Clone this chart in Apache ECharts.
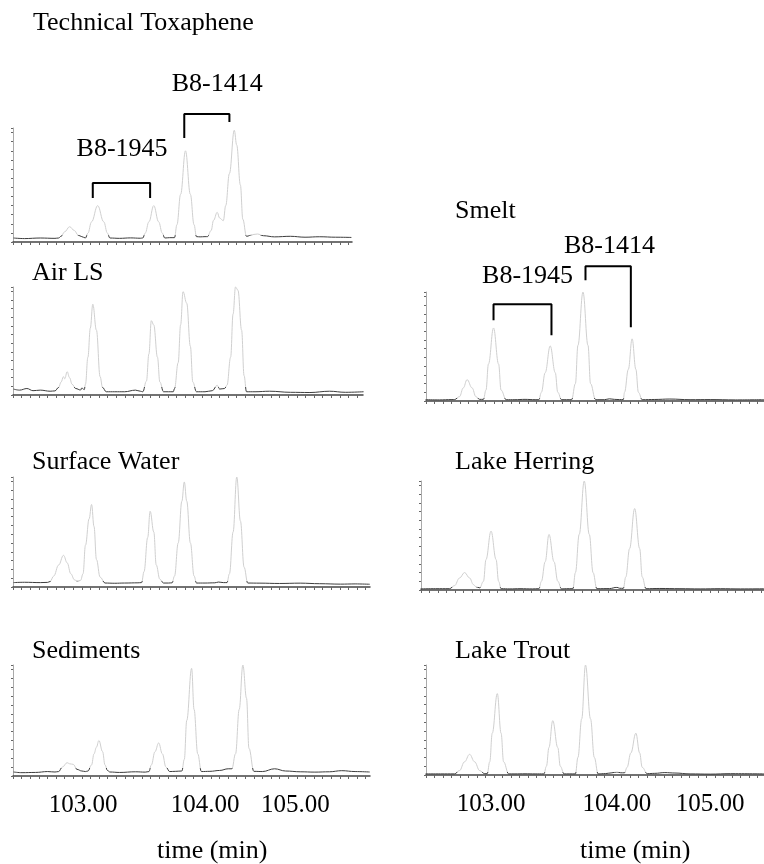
<!DOCTYPE html>
<html><head><meta charset="utf-8">
<script src="https://cdn.jsdelivr.net/npm/echarts@6/dist/echarts.min.js"></script>
<style>html,body{margin:0;padding:0;background:#fff}#c{width:764px;height:864px}</style>
</head><body><div id="c"></div>
<script>
// ---------- DATA (time in min, relative signal in % of panel full scale) ----------
const panelNames = ['Technical Toxaphene','Air LS','Surface Water','Sediments','Smelt','Lake Herring','Lake Trout'];
const tickLabels = ['103.00','104.00','105.00'];
const tickLabelTimes = [103.00, 104.00, 104.74];
const axisTitle = 'time (min)';

const toxapheneTrace = [
[102.43,3.5],[102.52,3.0],[102.65,3.5],[102.77,3.2],[102.80,3.5],[102.82,5],[102.85,9],[102.89,13.4],[102.93,10],[102.96,6],[102.99,4.7],
[103.02,3.5],[103.04,7.8],[103.07,17.7],[103.12,31.9],[103.17,17.7],[103.20,7.8],[103.22,3.5],
[103.30,3.2],[103.39,3.6],[103.47,3.3],
[103.49,3.5],[103.51,7.8],[103.54,17.7],[103.58,31.9],[103.62,17.7],[103.65,7.8],[103.67,3.5],[103.71,3.8],
[103.75,3.8],[103.77,15.2],[103.80,41.8],[103.84,80],[103.88,41.8],[103.91,15.2],[103.93,4.7],
[103.96,4.5],[104.00,4.7],[104.02,4.7],[104.05,10],[104.07,19],[104.10,26],[104.12,21],[104.15,18.7],
[104.17,32],[104.20,60],[104.24,98],[104.26,85],[104.29,50],[104.31,20],[104.34,5],
[104.39,6.5],[104.43,7],[104.48,5.5],[104.57,4.5],[104.70,5],[104.82,4.2],[104.94,4.6],[105.07,4.2],[105.20,4.0]
];
const airLSTrace = [
[102.43,5.5],[102.48,4.5],[102.54,6],[102.59,4],[102.65,4.5],[102.73,3.5],[102.77,3.8],
[102.80,7],[102.82,12],[102.84,17],[102.85,15],[102.87,21.6],[102.89,16],[102.91,10],[102.94,6],[102.98,4.6],[102.99,6.5],
[103.01,5],[103.02,10],[103.04,35],[103.06,62],[103.08,84],[103.11,60],[103.14,17],[103.16,7],[103.19,3],
[103.26,3],[103.34,3],[103.43,4.5],[103.47,3.5],
[103.49,3],[103.52,13],[103.54,38],[103.56,68.8],[103.58,64.8],[103.61,35],[103.63,12],[103.66,3],[103.70,3],[103.74,3],
[103.75,6],[103.78,30],[103.80,65],[103.82,95.7],[103.85,85],[103.88,45],[103.90,12],[103.93,3],
[104.00,3],[104.06,4],[104.10,9],[104.12,5.5],[104.16,6],
[104.18,9],[104.21,35],[104.23,75],[104.25,100],[104.27,97],[104.30,60],[104.32,18],[104.34,3],
[104.41,3],[104.53,3.5],[104.70,2.5],[104.86,2.3],[105.02,3.5],[105.15,2.5],[105.30,3]
];
const surfaceWaterTrace = [
[102.43,4],[102.52,4.3],[102.65,4],[102.71,4.2],
[102.73,5],[102.76,10],[102.80,20],[102.84,28.8],[102.87,22],[102.90,12],[102.93,6.5],[102.95,5.5],
[102.98,6],[103.00,12],[103.02,38],[103.05,62],[103.07,75],[103.09,55],[103.11,25],[103.14,9],[103.18,3.6],
[103.26,3.4],[103.34,3.6],[103.45,3.8],
[103.48,4],[103.50,14],[103.53,45],[103.55,68.8],[103.58,50],[103.60,20],[103.63,7],[103.66,3.6],[103.70,3.6],
[103.73,3.8],[103.75,10],[103.78,40],[103.81,78],[103.83,95.5],[103.85,78],[103.88,40],[103.91,10],[103.93,3.6],
[104.00,3.6],[104.08,3.8],[104.11,4.5],[104.15,4],
[104.18,4],[104.20,12],[104.23,50],[104.26,100],[104.29,60],[104.32,18],[104.35,3.6],
[104.45,3.5],[104.61,3.2],[104.78,3.5],[104.94,3.0],[105.11,2.6],[105.23,2.8],[105.35,2.5]
];
const sedimentsTrace = [
[102.43,3.6],[102.50,3],[102.61,3.2],[102.71,4],[102.77,3.6],
[102.80,4],[102.83,8],[102.87,12],[102.89,11],[102.92,10.5],[102.95,6],[102.99,4.5],[103.02,4],
[103.04,4.5],[103.07,10],[103.09,20],[103.11,26],[103.13,32],[103.16,22],[103.18,10],[103.20,5],[103.22,3.6],
[103.30,3.2],[103.43,3.8],[103.51,3.5],
[103.54,4],[103.56,10],[103.59,22],[103.62,29.8],[103.65,20],[103.68,8],[103.71,4],[103.76,4.2],
[103.81,4.5],[103.83,15],[103.85,50],[103.89,97],[103.91,60],[103.94,20],[103.97,4],
[104.04,4.2],[104.12,5],[104.19,6.5],[104.22,6.5],
[104.25,20],[104.28,60],[104.31,100],[104.34,70],[104.36,25],[104.40,4.2],
[104.47,4],[104.57,6.5],[104.66,4.5],[104.78,3.8],[104.90,3.5],[105.02,3.8],[105.12,4.8],[105.23,4],[105.35,3.6]
];
const smeltTrace = [
[102.48,1.2],[102.59,1.0],[102.69,1.3],
[102.71,1.3],[102.75,4],[102.78,12],[102.81,19.6],[102.85,12],[102.88,4],[102.91,1.5],
[102.94,1.5],[102.96,10],[102.98,34],[103.02,67],[103.06,34],[103.08,10],[103.12,1.2],
[103.19,1.2],[103.27,1.5],[103.35,1.2],
[103.38,1.2],[103.40,8],[103.43,26],[103.47,50.5],[103.51,26],[103.53,8],[103.56,1.2],[103.60,1.2],
[103.64,1.2],[103.67,16],[103.69,51],[103.73,100],[103.77,51],[103.79,16],[103.83,1.2],
[103.90,1.2],[103.94,2],[103.98,1.5],[104.02,1.3],
[104.05,1.3],[104.06,8],[104.09,29],[104.12,57],[104.15,29],[104.17,8],[104.20,1.2],
[104.30,1.4],[104.42,1.8],[104.58,1.2],[104.74,1.3],[104.94,1.0],[105.17,1.2]
];
const lakeHerringTrace = [
[102.44,1.0],[102.56,1.2],
[102.67,1.2],[102.71,4],[102.75,11],[102.79,16],[102.83,11],[102.86,5],[102.88,3],
[102.91,2],[102.94,8],[102.96,28],[103.00,54],[103.04,28],[103.06,8],[103.08,1.2],
[103.15,1],[103.23,1.2],[103.33,1],
[103.38,1.2],[103.40,8],[103.43,26],[103.46,51],[103.50,26],[103.53,8],[103.56,1],[103.60,1.2],
[103.65,1.2],[103.67,16],[103.70,51],[103.74,100],[103.78,51],[103.81,16],[103.84,1.2],
[103.94,1.3],[104.00,2.5],[104.02,1.6],
[104.05,1.5],[104.07,12],[104.10,38],[104.14,74.7],[104.18,38],[104.20,12],[104.23,1.2],
[104.34,1.4],[104.50,1.2],[104.66,1.0],[104.82,1.2],[104.98,1.0],[105.17,1.1]
];
const lakeTroutTrace = [
[102.48,1],[102.60,1],
[102.71,1],[102.75,4],[102.79,12],[102.83,18.8],[102.87,12],[102.91,4],[102.95,1.2],
[102.97,1.2],[102.99,12],[103.01,38],[103.05,74],[103.08,38],[103.10,12],[103.14,1],
[103.19,1],[103.27,1.1],[103.35,1],
[103.42,1],[103.44,8],[103.46,25],[103.49,49.4],[103.53,25],[103.55,8],[103.58,1],[103.62,1],
[103.67,1],[103.69,16],[103.72,51],[103.75,100],[103.79,51],[103.82,16],[103.85,1],
[103.91,1.3],[103.96,2],[104.00,2.8],[104.03,2],
[104.06,2],[104.08,7],[104.11,20],[104.15,38],[104.18,20],[104.20,7],[104.24,1.2],
[104.30,1.5],[104.38,2.2],[104.46,1.8],[104.58,1],[104.74,0.8],[104.90,1.2],[105.17,1]
];

// congener brackets (time, signal) and their labels
const toxapheneB81945Bracket = [[103.08,38.6],[103.08,51.8],[103.55,51.8],[103.55,38.6]];
const toxapheneB81414Bracket = [[103.83,91.2],[103.83,112.3],[104.20,112.3],[104.20,105.3]];
const smeltB81945Bracket = [[103.02,74],[103.02,88.7],[103.48,88.7],[103.48,60.3]];
const smeltB81414Bracket = [[103.75,110.7],[103.75,123.6],[104.11,123.6],[104.11,67.6]];
const toxapheneLabels = [[103.32,74.6,'B8-1945'],[104.10,131.6,'B8-1414']];
const smeltLabels = [[103.29,108,'B8-1945'],[103.94,135.5,'B8-1414']];

// ---------- LAYOUT ----------
const traces = [toxapheneTrace, airLSTrace, surfaceWaterTrace, sedimentsTrace, smeltTrace, lakeHerringTrace, lakeTroutTrace];
const layout = [
 {left:13, top:128, width:339, height:114, min:102.426, max:105.205, tick:0.0705, thr:6,   tx:33, ty:10},
 {left:13, top:287, width:350, height:108, min:102.426, max:105.295, tick:0.0705, thr:7,   tx:32, ty:260},
 {left:13, top:477, width:357, height:110, min:102.426, max:105.352, tick:0.0705, thr:5,   tx:32, ty:449},
 {left:13, top:665, width:357, height:111, min:102.426, max:105.352, tick:0.0705, thr:7.5, tx:32, ty:638, labels:true, ax:157},
 {left:426, top:292, width:338, height:109, min:102.484, max:105.167, tick:0.0675, thr:2.5, tx:455, ty:198},
 {left:421, top:481, width:343, height:109, min:102.444, max:105.167, tick:0.0675, thr:2.5, tx:455, ty:449},
 {left:426, top:665, width:338, height:110, min:102.484, max:105.167, tick:0.0675, thr:3,   tx:455, ty:638, labels:true, ax:580}
];
const FONT = 'Liberation Serif, Times New Roman, serif';
const txt = {fontFamily:FONT, fontSize:26, fontWeight:'normal', color:'#000', lineHeight:26};

const grid=[], xAxis=[], yAxis=[], series=[], visualMap=[], title=[];
layout.forEach((g,i)=>{
  grid.push({left:g.left, top:g.top, width:g.width, height:g.height, containLabel:false});
  const ticks=[]; for(let v=g.min; v<=g.max+1e-6; v+=g.tick) ticks.push(+v.toFixed(4));
  xAxis.push({type:'value', gridIndex:i, min:g.min, max:g.max,
    axisLine:{show:true, lineStyle:{color:'#444', width:1.5}},
    axisTick:{show:true, customValues:ticks, length:3, lineStyle:{color:'#666', width:1}},
    axisLabel:{show:!!g.labels, customValues:tickLabelTimes, margin:17,
      formatter:v=>{let k=0,d=1e9;tickLabelTimes.forEach((t,j)=>{if(Math.abs(t-v)<d){d=Math.abs(t-v);k=j;}});return tickLabels[k];},
      fontFamily:FONT, fontSize:25, color:'#000'},
    splitLine:{show:false}});
  yAxis.push({type:'value', gridIndex:i, min:0, max:100, interval:8,
    axisLine:{show:true, lineStyle:{color:'#aaa', width:1}},
    axisTick:{show:true, length:2, lineStyle:{color:'#666'}},
    axisLabel:{show:false}, splitLine:{show:false}});
  series.push({type:'line', xAxisIndex:i, yAxisIndex:i, data:traces[i], showSymbol:false, symbol:'none',
    smooth:0.4, smoothMonotone:'x', clip:false, lineStyle:{width:1}, silent:true, animation:false});
  visualMap.push({type:'piecewise', show:false, seriesIndex:i, dimension:1,
    pieces:[{gte:-50, lt:g.thr, color:'#3c3c3c'},{gte:g.thr, lte:200, color:'#cfcfcf'}]});
  title.push({text:panelNames[i], left:g.tx, top:g.ty, padding:0, textStyle:txt});
  if(g.labels) title.push({text:axisTitle, left:g.ax, top:838, padding:0, textStyle:txt});
});
function bracket(data, idx){
  return {type:'line', xAxisIndex:idx, yAxisIndex:idx, data, symbol:'none', clip:false, silent:true, animation:false, z:5,
    lineStyle:{color:'#000', width:2}, itemStyle:{color:'#000'}};
}
function labels(data, idx){
  return {type:'scatter', xAxisIndex:idx, yAxisIndex:idx, data, symbolSize:1, clip:false, silent:true, animation:false, z:6,
    itemStyle:{color:'rgba(0,0,0,0)'},
    label:{show:true, position:'inside', formatter:p=>p.data[2], offset:[0,-7.6], align:'center', verticalAlign:'middle',
      fontFamily:FONT, fontSize:26, color:'#000', textBorderWidth:0, textBorderColor:'transparent', opacity:1}};
}
series.push(bracket(toxapheneB81945Bracket,0), bracket(toxapheneB81414Bracket,0),
            bracket(smeltB81945Bracket,4), bracket(smeltB81414Bracket,4),
            labels(toxapheneLabels,0), labels(smeltLabels,4));

const chart = echarts.init(document.getElementById('c'), null, {renderer:'canvas'});
chart.setOption({animation:false, backgroundColor:'#fff', title, grid, xAxis, yAxis, visualMap, series});
</script>
</body></html>
